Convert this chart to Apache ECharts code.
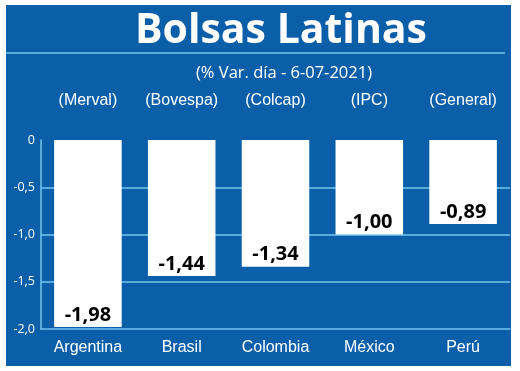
<!DOCTYPE html>
<html>
<head>
<meta charset="utf-8">
<script src="https://cdn.jsdelivr.net/npm/echarts@6/dist/echarts.min.js"></script>
<style>
  html, body { margin: 0; padding: 0; background: #fff; }
  #chart { width: 520px; height: 371px; }
</style>
</head>
<body>
<div id="chart"></div>
<script>
// Bolsas Latinas, % var. día 6-07-2021
const countries = ['Argentina', 'Brasil', 'Colombia', 'México', 'Perú'];
const indices = ['(Merval)', '(Bovespa)', '(Colcap)', '(IPC)', '(General)'];
const values = [-1.98, -1.44, -1.34, -1.00, -0.89];

const blue = '#0b5fa9';
const light = '#72c6ee';
const narrow = '"Liberation Sans Narrow", "Liberation Sans", sans-serif';

const fmt = (v) => v.toFixed(2).replace('.', ',');

const chart = echarts.init(document.getElementById('chart'));
chart.setOption({
  backgroundColor: '#fff',
  animation: false,
  graphic: [
    { type: 'rect', z: -10, shape: { x: 6, y: 5, width: 505, height: 361 }, style: { fill: blue } },
    { type: 'line', z: -5, shape: { x1: 6, y1: 53, x2: 505, y2: 53 }, style: { stroke: light, lineWidth: 1.5 } }
  ],
  title: [
    {
      text: 'Bolsas Latinas',
      left: 276, top: 6, textAlign: 'center',
      textStyle: { color: '#fff', fontSize: 41, fontWeight: 'bold', fontFamily: '"Open Sans", sans-serif' }
    },
    {
      text: '(% Var. día - 6-07-2021)',
      left: 279, top: 60, textAlign: 'center',
      textStyle: { color: '#fff', fontSize: 16.5, fontWeight: 'normal', fontFamily: '"Open Sans", sans-serif' }
    }
  ],
  grid: { left: 41, right: 10, top: 140, bottom: 42 },
  xAxis: [
    {
      type: 'category',
      data: countries,
      position: 'bottom',
      axisLine: { onZero: false, lineStyle: { color: light, width: 1.5 } },
      axisTick: { show: false },
      axisLabel: { interval: 0, color: '#fff', fontSize: 16, fontFamily: narrow, margin: 11 }
    },
    {
      type: 'category',
      data: indices,
      position: 'top',
      axisLine: { show: false },
      axisTick: { show: false },
      axisLabel: { interval: 0, color: '#fff', fontSize: 16, fontFamily: narrow, margin: 31 }
    }
  ],
  yAxis: {
    type: 'value',
    min: -2, max: 0, interval: 0.5,
    axisLine: { show: true, lineStyle: { color: light, width: 1.5 } },
    axisTick: { show: false },
    axisLabel: {
      color: '#fff', fontSize: 12.5, margin: 6,
      fontFamily: '"Open Sans", sans-serif',
      formatter: (v) => v === 0 ? '0' : v.toFixed(1).replace('.', ',')
    },
    splitLine: {
      show: true,
      lineStyle: { color: ['rgba(0,0,0,0)', light, light, light, 'rgba(0,0,0,0)'], width: 1.5 }
    }
  },
  series: [{
    type: 'bar',
    data: values,
    barWidth: '72%',
    itemStyle: { color: '#fff' },
    label: {
      show: true,
      position: 'insideBottom',
      distance: 2,
      color: '#000',
      fontSize: 20,
      fontWeight: 'bold',
      fontFamily: '"Open Sans", sans-serif',
      formatter: (p) => fmt(p.value)
    }
  }]
});
</script>
</body>
</html>
